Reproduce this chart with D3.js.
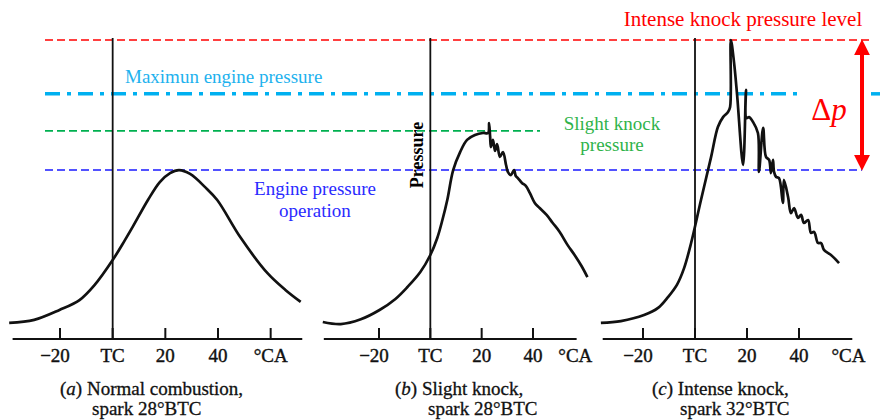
<!DOCTYPE html>
<html lang="en">
<head>
<meta charset="UTF-8">
<title>Knock pressure</title>
<script src="https://d3js.org/d3.v7.min.js"></script>
<style>
    body { margin: 0; background: #fff; }
    svg { font-family: "Liberation Serif", "Times New Roman", serif; }
    .curve { fill: none; stroke: #111; stroke-width: 2.7px; stroke-linejoin: round; }
    .base { stroke: #111; stroke-width: 2px; }
    .tc { stroke: #111; stroke-width: 1.8px; }
    .tick-lab { font-size: 19px; fill: #111; stroke: #111; stroke-width: 0.4px; text-anchor: middle; }
    .cap { font-size: 19px; fill: #111; stroke: #111; stroke-width: 0.3px; }
    .note { font-size: 19px; }
</style>
</head>
<body>
<svg id="chart" width="880" height="420"></svg>
<script>
// crank angle (deg) vs pressure (0 = baseline, 100 = intense knock level)
var normalCurve = [[-39.3,5.4],[-29.8,6.4],[-20.2,9.7],[-12.6,13],[-6.9,18],[0,26.4],[4.6,33],[7.6,37.5],
    [13.4,46.5],[17.9,52.5],[21.8,55.5],[25.2,56.5],[29.4,55.2],[35.1,50.8],[39.7,46.5],[48.5,34],
    [58.8,22],[65.6,16.4],[71.4,12.4]];

var slightCurve = [[-41.9,5.7],[-34.9,5.0],[-27.1,6.6],[-19.8,9.7],[-13.6,13.4],[-8.9,17.4],[-3.9,22.4],[0,28.1],
    [2.7,33.8],[4.7,39.8],[6.6,46.5],[8.9,56.5],[11.6,62.5],[14.3,66.6],[17.4,68.2],[20.5,68.9],[22.5,68.9],
    [22.9,72.2],[23.3,67.6],[23.6,64.2],[24.4,66.6],[25.2,62.9],[26.0,65.2],[27.1,60.9],[28.3,62.5],
    [29.5,58.2],[30.2,55.9],[31.4,54.8],[32.6,56.5],[33.3,54.5],[34.1,53.8],[35.7,52.2],[37.2,51.2],
    [38.8,48.8],[40.7,45.5],[42.6,43.8],[45.3,41.5],[47.7,38.8],[50.4,35.8],[53.5,31.4],[56.2,28.1],
    [58.9,24.4],[61.2,20.7]];

var intenseCurve = [[-36.2,5.4],[-28.5,6.0],[-19.6,8.0],[-14.2,10.4],[-10.4,14.0],[-6.9,18.2],[-4.2,23.7],
    [-1.5,32.1],[2.3,46.5],[6.2,60.9],[8.8,70.9],[10.8,74.2],[12.7,75.9],[13.5,77.6],
    [13.8,100],[15,92.6],[16.2,81.6],[18.5,58.2],[19.6,83.3],[19.8,73.9],[20.8,74.2],[22.3,72.6],
    [24.2,68.9],[24.6,55.9],[26.2,70.6],[27.3,60.9],[28.5,59.9],[29.2,55.5],[30,59.9],[30.4,55.9],
    [31.2,54.2],[32.3,53.8],[33.8,45.5],[34.2,53.2],[35.8,47.5],[36.9,42.1],[38.1,43.8],[39.6,40.5],
    [40.8,41.5],[41.9,38.8],[43.5,39.8],[44.6,35.5],[45.8,35.8],[47.3,32.1],[48.5,32.1],[49.6,29.8],
    [52.3,28.1],[55.4,25.4]];

var tickValues = [-20, 0, 20, 40];
var tickLabels = ["\u221220", "TC", "20", "40"];

var levelNames = ["intense", "maximum", "slight", "operation"];
var levelPressures = [100, 82, 69.6, 56.5];

var captions = [["(a) Normal combustion,", "spark 28\u00b0BTC"],
                ["(b) Slight knock,", "spark 28\u00b0BTC"],
                ["(c) Intense knock,", "spark 32\u00b0BTC"]];

var svg = d3.select("#chart");
var y = d3.scaleLinear().domain([0, 100]).range([339, 40]);

var panels = [
    {data: normalCurve,  range: [60, 218],  extent: [-38, 72],   ca: 60,   caTick: true,  cap: [60, 92]},
    {data: slightCurve,  range: [379, 533], extent: [-41.5, 57], ca: 56.5, caTick: false, cap: [395, 428]},
    {data: intenseCurve, range: [643, 799], extent: [-35.5, 60.5], ca: 59, caTick: false, cap: [652, 680]}
];

// reference levels
var lv = {};
levelNames.forEach(function(n, i) { lv[n] = y(levelPressures[i]); });

svg.append("line").attr("x1", 45).attr("x2", 870).attr("y1", lv.intense).attr("y2", lv.intense)
    .attr("stroke", "#ff0000").attr("stroke-width", 1.6).attr("stroke-dasharray", "8,4");
svg.append("line").attr("x1", 45).attr("x2", 802).attr("y1", lv.maximum).attr("y2", lv.maximum)
    .attr("stroke", "#00b0f0").attr("stroke-width", 3.5).attr("stroke-dasharray", "15,7,4,7");
svg.append("line").attr("x1", 871).attr("x2", 880).attr("y1", lv.maximum).attr("y2", lv.maximum)
    .attr("stroke", "#00b0f0").attr("stroke-width", 3.5);
svg.append("line").attr("x1", 45).attr("x2", 540).attr("y1", lv.slight).attr("y2", lv.slight)
    .attr("stroke", "#00b050").attr("stroke-width", 1.6).attr("stroke-dasharray", "8,4");
svg.append("line").attr("x1", 45).attr("x2", 862).attr("y1", lv.operation).attr("y2", lv.operation)
    .attr("stroke", "#1a1aff").attr("stroke-width", 1.6).attr("stroke-dasharray", "8,4");

panels.forEach(function(p, i) {
    var x = d3.scaleLinear().domain([-20, 40]).range(p.range);
    var g = svg.append("g");

    g.append("line").attr("class", "base")
        .attr("x1", x(p.extent[0])).attr("x2", x(p.extent[1]))
        .attr("y1", y(0)).attr("y2", y(0));

    var tv = p.caTick ? tickValues.concat([p.ca]) : tickValues;
    g.selectAll(".tk").data(tv).join("line")
        .attr("class", "base")
        .attr("x1", d => x(d)).attr("x2", d => x(d))
        .attr("y1", y(0)).attr("y2", y(0) - 11);

    // TC line up to intense knock level
    g.append("line").attr("class", "tc")
        .attr("x1", x(0)).attr("x2", x(0))
        .attr("y1", y(0)).attr("y2", y(100) - 2);

    g.selectAll(".tl").data(tickValues).join("text")
        .attr("class", "tick-lab")
        .attr("x", (d, j) => x(d) + (j === 0 ? -5 : 0))
        .attr("y", y(0) + 23)
        .text((d, j) => tickLabels[j]);
    g.append("text").attr("class", "tick-lab")
        .attr("x", x(p.ca)).attr("y", y(0) + 23).text("\u00b0CA");

    g.append("path").datum(p.data).attr("class", "curve")
        .attr("d", d3.line().x(d => x(d[0])).y(d => y(d[1])).curve(d3.curveCatmullRom.alpha(0.5)));

    var letter = "abc"[i];
    var c1 = g.append("text").attr("class", "cap").attr("x", p.cap[0]).attr("y", 395);
    c1.append("tspan").text("(");
    c1.append("tspan").attr("font-style", "italic").text(letter);
    c1.append("tspan").text(captions[i][0].slice(2));
    g.append("text").attr("class", "cap").attr("x", p.cap[1]).attr("y", 415).text(captions[i][1]);
});

// Pressure label
svg.append("text")
    .attr("transform", "translate(423,155) rotate(-90)")
    .attr("text-anchor", "middle")
    .attr("font-size", 18).attr("font-weight", "bold")
    .text("Pressure");

// annotations
svg.append("text").attr("class", "note").attr("x", 125).attr("y", lv.maximum - 11)
    .attr("fill", "#1eb2ee").text("Maximun engine pressure");
svg.append("text").attr("class", "note").attr("x", 315).attr("y", lv.operation + 25)
    .attr("text-anchor", "middle").attr("fill", "#2a2aff").text("Engine pressure");
svg.append("text").attr("class", "note").attr("x", 315).attr("y", lv.operation + 47)
    .attr("text-anchor", "middle").attr("fill", "#2a2aff").text("operation");
svg.append("text").attr("class", "note").attr("x", 612).attr("y", lv.slight - 1)
    .attr("text-anchor", "middle").attr("fill", "#2fb34a").text("Slight knock");
svg.append("text").attr("class", "note").attr("x", 612).attr("y", lv.slight + 20)
    .attr("text-anchor", "middle").attr("fill", "#2fb34a").text("pressure");
svg.append("text").attr("x", 743).attr("y", lv.intense - 14)
    .attr("text-anchor", "middle").attr("font-size", 21).attr("fill", "#ff0000")
    .text("Intense knock pressure level");
var dp = svg.append("text").attr("x", 829).attr("y", 120).attr("text-anchor", "middle")
    .attr("font-size", 31).attr("fill", "#ff0000");
dp.append("tspan").text("\u0394");
dp.append("tspan").attr("font-style", "italic").text("p");

// double arrow for delta p
var defs = svg.append("defs");
defs.append("marker").attr("id", "ah").attr("viewBox", "0 0 10 10")
    .attr("refX", 2).attr("refY", 5).attr("markerWidth", 4).attr("markerHeight", 4)
    .attr("orient", "auto-start-reverse").attr("markerUnits", "strokeWidth")
    .append("path").attr("d", "M0,0 L10,5 L0,10 Z").attr("fill", "#ff0000");
svg.append("line").attr("x1", 862).attr("x2", 862)
    .attr("y1", lv.intense + 12).attr("y2", lv.operation - 12)
    .attr("stroke", "#ff0000").attr("stroke-width", 4)
    .attr("marker-start", "url(#ah)").attr("marker-end", "url(#ah)");
</script>
</body>
</html>
